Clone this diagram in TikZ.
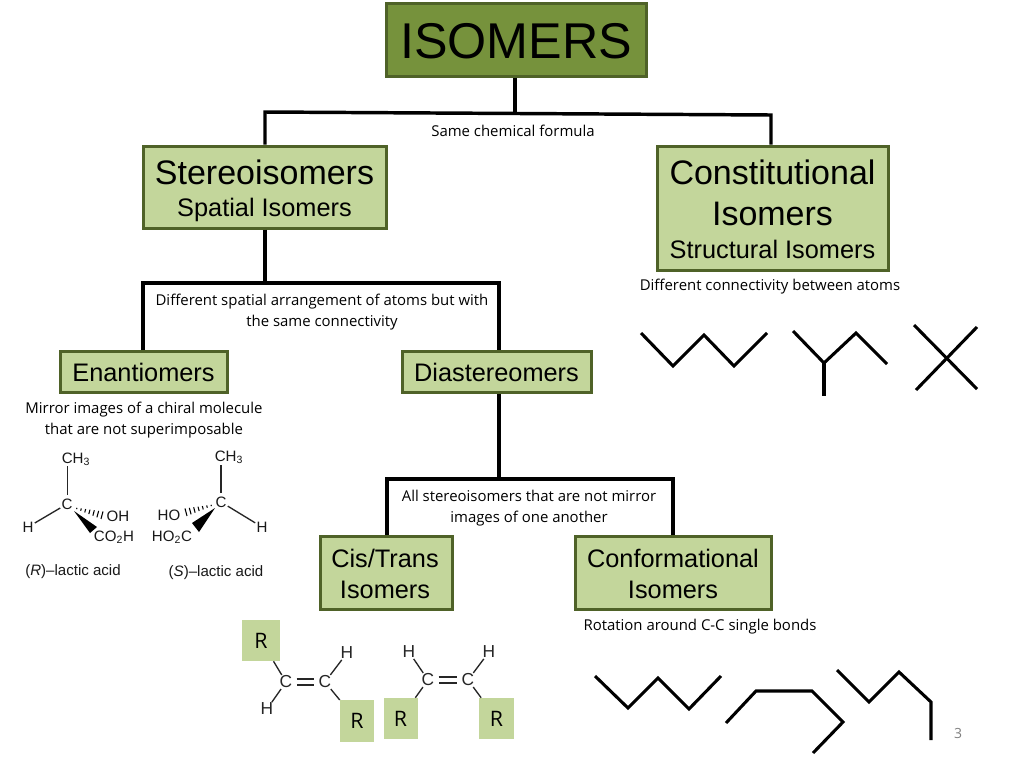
\documentclass[tikz,border=0pt]{standalone}
\usepackage{fontspec}
\setmainfont{Liberation Sans}
\newfontfamily\capfont{Open Sans}
\usetikzlibrary{calc}
\definecolor{darkgreen}{HTML}{4F6228}
\definecolor{midgreen}{HTML}{76923C}
\definecolor{lightgreen}{HTML}{C3D69B}
\tikzset{
  x=0.75pt,y=-0.75pt,
  box/.style={draw=darkgreen,line width=2.25pt,fill=lightgreen,inner sep=0pt,align=center,text=black},
  bigbox/.style={box,font=\fontsize{25.5}{30.5}\selectfont},
  smallbox/.style={box,font=\fontsize{19}{23.25}\selectfont},
  caption/.style={inner sep=0pt,align=center,text=black,font=\capfont\fontsize{11.2}{15.75}\selectfont},
  conn/.style={line width=2.6pt,black,line join=miter},
  chain/.style={line width=2.3pt,black,line join=miter},
  rbox/.style={fill=lightgreen,inner sep=0pt,font=\capfont\fontsize{16}{18}\selectfont,text=black},
  atom/.style={inner sep=0.5pt,font=\fontsize{13}{15}\selectfont,text=black!85},
  chem/.style={inner sep=0.8pt,font=\fontsize{11.3}{13}\selectfont,text=black!90},
  bond/.style={line width=1pt,black!85},
  dbond/.style={double=white,double distance=3.4pt,line width=1pt,draw=black!85,shorten <=2.5pt,shorten >=2.5pt},
}
\newcommand{\hashbond}[2]{%
  \foreach \t/\w in {0.06/0.5,0.2/0.9,0.34/1.3,0.48/1.7,0.62/2.1,0.76/2.5,0.9/2.9}{
    \coordinate (hp) at ($(#1)!\t!(#2)$);
    \draw[line width=0.8pt,black] ($(hp)!\w pt!90:(#2)$) -- ($(hp)!\w pt!-90:(#2)$);
  }}
\begin{document}
\begin{tikzpicture}
\useasboundingbox (0,0) rectangle (1024,768);
\fill[white] (0,0) rectangle (1024,768);

% main boxes
\node[box,fill=midgreen,minimum width=195pt,minimum height=54.75pt] (iso) at (516,39.5) {};
\node[inner sep=0pt,font=\fontsize{37.7}{40}\selectfont] (isot) at (516,41.5) {ISOMERS};
\node[bigbox,minimum width=182.25pt,minimum height=61.5pt] (stereo) at (264.5,187) {};
\node[inner sep=0pt,font=\fontsize{25.5}{30}\selectfont] (stereot) at (264.5,172.5) {Stereoisomers};
\node[inner sep=0pt,font=\fontsize{19}{24}\selectfont] (stereos) at (264.5,210) {Spatial Isomers};
\node[bigbox,minimum width=173.25pt,minimum height=93pt] (const) at (772.5,208) {};
\node[inner sep=0pt,align=center,font=\fontsize{25.5}{30.75}\selectfont] (constt) at (772.5,192.5) {Constitutional\\Isomers};
\node[inner sep=0pt,font=\fontsize{19}{24}\selectfont] (consts) at (772.5,249.5) {Structural Isomers};
\node[smallbox,minimum width=125.25pt,minimum height=30.75pt] (enan) at (143.5,372) {Enantiomers};
\node[smallbox,minimum width=141.75pt,minimum height=30.75pt] (dia) at (496.5,372) {Diastereomers};
\node[smallbox,minimum width=99pt,minimum height=54.75pt] (cis) at (386,572.5) {};
\node[inner sep=0pt,align=center,font=\fontsize{19}{23.25}\selectfont] (cist) at (385,573.5) {Cis/Trans\hspace{0.28em}\\Isomers};
\node[smallbox,minimum width=147pt,minimum height=54.75pt] (conf) at (673,572.5) {};
\node[inner sep=0pt,align=center,font=\fontsize{19}{23.25}\selectfont] (conft) at (673,574) {Conformational\\Isomers};

% tree connectors
\coordinate (j1) at (515,112);
\coordinate (j1l) at (265,112);
\coordinate (j1r) at (771,115);
\coordinate (j2) at (265,283);
\coordinate (j2l) at (143,283);
\coordinate (j2r) at (499,283);
\coordinate (j3) at (499,479);
\coordinate (j3l) at (387,479);
\coordinate (j3r) at (673,479);
\draw[conn] (iso.south -| j1) -- (j1);
\draw[conn] (stereo.north -| j1l) -- (j1l) -- (j1r) -- (const.north -| j1r);
\draw[conn] (stereo.south -| j2) -- (j2);
\draw[conn] (enan.north -| j2l) -- (j2l) -- (j2r) -- (dia.north -| j2r);
\draw[conn] (dia.south -| j3) -- (j3);
\draw[conn] (cis.north -| j3l) -- (j3l) -- (j3r) -- (conf.north -| j3r);

% captions
\node[caption] (c1) at (513,131) {Same chemical formula};
\node[caption] (c2) at (770,286.5) {Different connectivity between atoms};
\node[caption] (c3) at (322,312) {Different spatial arrangement of atoms but with\\the same connectivity};
\node[caption] (c4) at (144,420) {Mirror images of a chiral molecule\\that are not superimposable};
\node[caption] (c5) at (529,508) {All stereoisomers that are not mirror\\images of one another};
\node[caption] (c6) at (700,626.5) {Rotation around C-C single bonds};

% skeletal chains, constitutional
\draw[chain] (641,333) -- (673,366) -- (704,335) -- (734,366) -- (767,333);
\draw[chain] (793,331) -- (824,363) -- (856,333) -- (887,364);
\draw[chain] (824,363) -- (824,396);
\draw[chain] (914,325) -- (977,389);
\draw[chain] (977,327) -- (916,390);

% skeletal chains, conformational
\draw[chain] (595,676) -- (628,708) -- (658,678) -- (689,709) -- (721,676);
\draw[chain] (726,723) -- (756,691) -- (812,691) -- (843,722) -- (813,753);
\draw[chain] (837,670) -- (869,702) -- (899,672) -- (931,702) -- (931,740);

% (R)-lactic acid
\node[chem] (ra) at (76,459) {CH\textsubscript{3}};
\node[chem] (rc) at (67,504) {C};
\node[chem] (rh) at (28,527) {H};
\node[chem] (roh) at (118,516) {OH};
\node[chem] (rco) at (114,537) {CO\textsubscript{2}H};
\node[chem] (rl) at (73,572) {(\textit{R})–lactic acid};
\draw[bond] (67.7,495) -- (67.7,466);
\draw[bond] (rc) -- (rh);
\coordinate (rha) at (75,508);
\coordinate (rhb) at (105,516);
\hashbond{rha}{rhb}
\fill[black] (74,511) -- (90,533) -- (97,527) -- cycle;

% (S)-lactic acid
\node[chem] (sa) at (229,457) {CH\textsubscript{3}};
\node[chem] (sc) at (221,502) {C};
\node[chem] (sh) at (262,527) {H};
\node[chem] (soh) at (169,515) {HO};
\node[chem] (sco) at (172,537) {HO\textsubscript{2}C};
\node[chem] (sl) at (216,573) {(\textit{S})–lactic acid};
\draw[bond] (221,493) -- (221,465);
\draw[bond] (sc) -- (sh);
\coordinate (sha) at (213,505);
\coordinate (shb) at (183,513);
\hashbond{sha}{shb}
\fill[black] (215,508) -- (192,523) -- (199,532) -- cycle;

% cis/trans examples
\node[rbox,minimum width=28.5pt,minimum height=30.75pt] (r1) at (261,640.5) {R};
\node[rbox,minimum width=25.5pt,minimum height=31.5pt] (r2) at (357,721) {R};
\node[rbox,minimum width=25.5pt,minimum height=30.75pt] (r3) at (400.5,718.5) {R};
\node[rbox,minimum width=26.25pt,minimum height=30.75pt] (r4) at (496.5,718.5) {R};
\node[atom] (c1a) at (286,682) {C};
\node[atom] (c2a) at (325,682) {C};
\node[atom] (h1) at (267,709) {H};
\node[atom] (h2) at (347,653) {H};
\node[atom] (c3a) at (428,680) {C};
\node[atom] (c4a) at (468,680) {C};
\node[atom] (h3) at (409,652) {H};
\node[atom] (h4) at (489,652) {H};
\draw[bond] (r1) -- (c1a);
\draw[bond] (c1a) -- (h1);
\draw[bond] (c2a) -- (h2);
\draw[bond] (c2a) -- (r2);
\draw[dbond] (c1a) -- (c2a);
\draw[bond] (h3) -- (c3a);
\draw[bond] (c3a) -- (r3);
\draw[bond] (c4a) -- (h4);
\draw[bond] (c4a) -- (r4);
\draw[dbond] (c3a) -- (c4a);

% slide number
\node[inner sep=0pt,text=black!50,font=\capfont\fontsize{10.5}{12}\selectfont] (num) at (958,733) {3};
\end{tikzpicture}
\end{document}
